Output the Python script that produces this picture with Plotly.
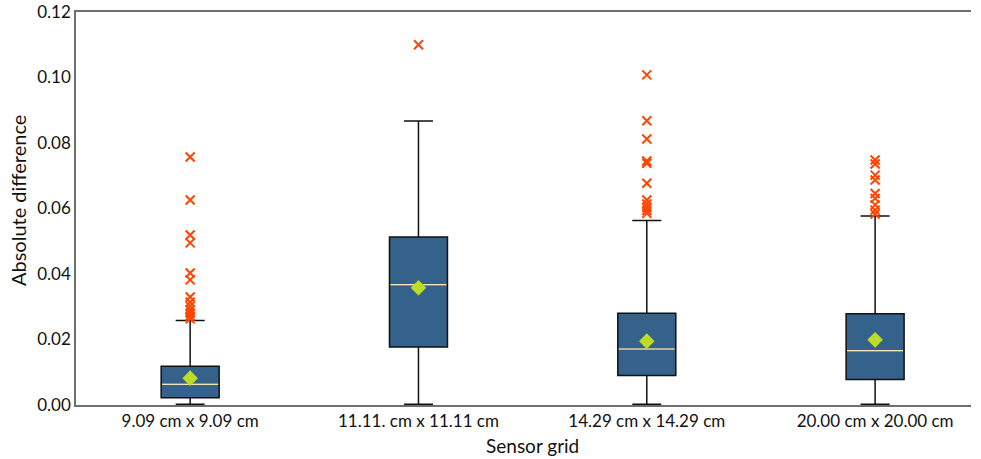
import plotly.graph_objects as go

# Sensor grid categories and summary statistics of the absolute difference
categories = ["9.09 cm x 9.09 cm", "11.11. cm x 11.11 cm", "14.29 cm x 14.29 cm", "20.00 cm x 20.00 cm"]
q1 = [0.0022, 0.0177, 0.0090, 0.0078]
median = [0.0063, 0.0367, 0.0171, 0.0166]
q3 = [0.0118, 0.0513, 0.0280, 0.0279]
lower_whisker = [0.0002, 0.0002, 0.0002, 0.0002]
upper_whisker = [0.0258, 0.0867, 0.0563, 0.0577]
mean = [0.0082, 0.0358, 0.0195, 0.0199]
outliers = [
    [0.0757, 0.0626, 0.0519, 0.0495, 0.0403, 0.0382, 0.0330, 0.0314, 0.0302,
     0.0290, 0.0281, 0.0272, 0.0263],
    [0.1100],
    [0.1008, 0.0868, 0.0812, 0.0745, 0.0738, 0.0677, 0.0626, 0.0614, 0.0603,
     0.0594, 0.0585],
    [0.0748, 0.0736, 0.0702, 0.0687, 0.0646, 0.0631, 0.0611, 0.0595, 0.0583],
]

BOX_W = 0.254
FONT = "Lato"
positions = list(range(len(categories)))

fig = go.Figure()

# Boxes built from precomputed quartiles and whisker ends
fig.add_trace(go.Box(
    x=positions,
    q1=q1, median=median, q3=q3,
    lowerfence=lower_whisker, upperfence=upper_whisker,
    width=BOX_W,
    whiskerwidth=0.5,
    fillcolor="#34628B",
    line=dict(color="#111111", width=1.5),
    boxpoints=False,
    showlegend=False,
    hoverinfo="skip",
))

# Median lines drawn on top in a light cream colour
med_x, med_y = [], []
for i, m in zip(positions, median):
    med_x += [i - BOX_W / 2 + 0.004, i + BOX_W / 2 - 0.004, None]
    med_y += [m, m, None]
fig.add_trace(go.Scatter(
    x=med_x, y=med_y, mode="lines",
    line=dict(color="#F3E3BC", width=1.5),
    showlegend=False, hoverinfo="skip",
))

# Means as diamonds
fig.add_trace(go.Scatter(
    x=positions, y=mean, mode="markers",
    marker=dict(symbol="diamond", size=12, color="#BCDC26"),
    showlegend=False,
))

# Outliers as crosses
out_x, out_y = [], []
for i, vals in zip(positions, outliers):
    out_x += [i] * len(vals)
    out_y += vals
fig.add_trace(go.Scatter(
    x=out_x, y=out_y, mode="markers",
    marker=dict(symbol="x-thin", size=9, line=dict(color="#FF4500", width=2)),
    showlegend=False,
))

fig.update_layout(
    width=981, height=459,
    margin=dict(l=76, r=10, t=12, b=54),
    paper_bgcolor="white", plot_bgcolor="white",
    font=dict(family=FONT, size=15, color="#111111"),
    xaxis=dict(
        tickmode="array", tickvals=positions, ticktext=categories,
        range=[-0.5, 3.42],
        showline=True, mirror=True, linecolor="#6E6E6E", linewidth=1.5,
        showgrid=False, zeroline=False, ticks="",
        tickfont=dict(size=17),
        automargin=False,
    ),
    yaxis=dict(
        range=[0, 0.12], tickvals=[0, 0.02, 0.04, 0.06, 0.08, 0.10, 0.12],
        tickformat=".2f",
        showline=True, linecolor="#6E6E6E", linewidth=1.5,
        showgrid=False, zeroline=False, ticks="",
        tickfont=dict(size=17),
        automargin=False,
    ),
    annotations=[
        dict(text="Sensor grid", xref="paper", yref="paper",
             x=0.5095, y=-0.1018, xanchor="center", yanchor="middle",
             showarrow=False, font=dict(size=19)),
        dict(text="Absolute difference", xref="paper", yref="paper",
             x=-0.0648, y=0.519, xanchor="center", yanchor="middle",
             textangle=-90, showarrow=False, font=dict(size=20)),
    ],
)

fig.write_html("out.html")
